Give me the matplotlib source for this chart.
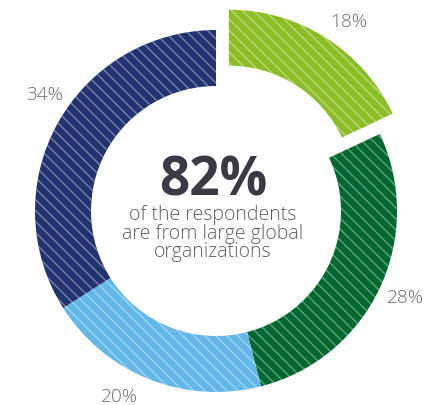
import numpy as np
import matplotlib
matplotlib.use("Agg")
import matplotlib.pyplot as plt

# ---- data ----
categories = ["Segment A", "Segment B", "Segment C", "Segment D"]
values = [18, 28, 20, 34]
labels = ["18%", "28%", "20%", "34%"]
colors = ["#8cbd25", "#00672f", "#62b9e9", "#233271"]
explode = [0.133, 0, 0, 0]
headline = "82%"
subtext_lines = ["of the respondents", "are from large global", "organizations"]

# ---- layout ----
DPI = 72
W, H = 436, 405
R = 181.0               # outer radius in px
CX, CY = 216.0, 211.0   # center in px (from top-left)
label_r = 1.149
label_angle_adj = [2.5, -1.0, 6.0, 5.5]   # degrees, clockwise
hatch_step_px = 11.0

plt.rcParams["font.family"] = ["Open Sans", "DejaVu Sans"]

fig = plt.figure(figsize=(W / DPI, H / DPI), dpi=DPI)
ax = fig.add_axes([0, 0, 1, 1])

wedges, _ = ax.pie(
    values,
    colors=colors,
    explode=explode,
    startangle=90,
    counterclock=False,
    radius=1.0,
    wedgeprops=dict(width=56 / R, linewidth=0),
)

ax.set_xlim(-CX / R, (W - CX) / R)
ax.set_ylim(-(H - CY) / R, CY / R)
ax.set_aspect("auto")
ax.axis("off")

# diagonal white hatch lines, clipped to each wedge
xs = np.array([-2.0, 2.0])
step = hatch_step_px / R
for w in wedges:
    for c in np.arange(-3.0, 3.0, step):
        ln, = ax.plot(xs, -xs + c, color="white", alpha=0.36, lw=1.5,
                      solid_capstyle="butt")
        ln.set_clip_path(w)

# percentage labels
for w, lab, ex, adj in zip(wedges, labels, explode, label_angle_adj):
    mid = np.deg2rad((w.theta1 + w.theta2) / 2 - adj)
    r = label_r + ex
    ax.text(r * np.cos(mid), r * np.sin(mid) - 6.5 / R, lab, ha="center", va="baseline",
            fontsize=19, fontweight="light", color="#6d6e71")

ax.text(-3 / R, (CY - 195) / R, headline, ha="center", va="baseline",
        fontsize=53, fontweight="bold", color="#3a3a44")
line_step = 18.5
for i, line in enumerate(subtext_lines):
    ax.text(-3 / R, (CY - 220 - i * line_step) / R, line, ha="center", va="baseline",
            fontsize=19.5, fontweight="light", color="#5f6062")

fig.savefig("out.png", dpi=DPI, facecolor="white")
